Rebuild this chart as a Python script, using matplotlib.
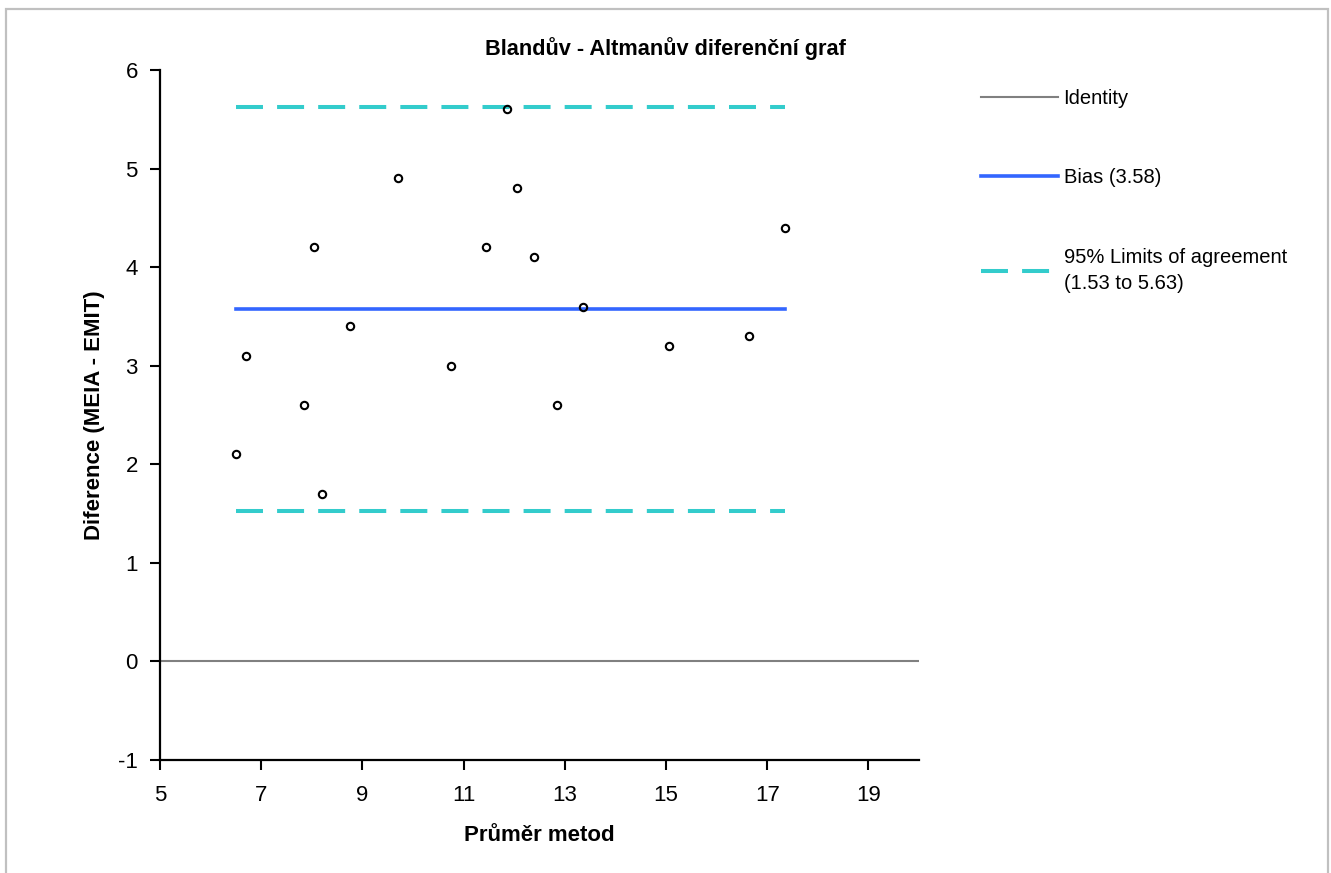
import numpy as np
import matplotlib
matplotlib.use("Agg")
import matplotlib.pyplot as plt
from matplotlib.lines import Line2D
from matplotlib.patches import Rectangle

# Bland-Altman data: mean of the two methods and their difference (MEIA - EMIT)
mean_methods = [6.5, 6.7, 7.85, 8.05, 8.2, 8.75, 9.7, 10.75, 11.45, 11.85,
                12.05, 12.4, 12.85, 13.35, 15.05, 16.65, 17.35]
differences = [2.1, 3.1, 2.6, 4.2, 1.7, 3.4, 4.9, 3.0, 4.2, 5.6,
               4.8, 4.1, 2.6, 3.6, 3.2, 3.3, 4.4]

x_ticks = [5, 7, 9, 11, 13, 15, 17, 19]
y_ticks = [-1, 0, 1, 2, 3, 4, 5, 6]

title = "Blandův - Altmanův diferenční graf"
x_label = "Průměr metod"
y_label = "Diference (MEIA - EMIT)"

x = np.array(mean_methods)
d = np.array(differences)
bias = d.mean()
sd = d.std(ddof=1)
lo, hi = bias - 1.96 * sd, bias + 1.96 * sd

plt.rcParams['font.family'] = ['Liberation Sans', 'DejaVu Sans']
plt.rcParams['axes.unicode_minus'] = False

W, H, DPI = 1331, 873, 100
fig = plt.figure(figsize=(W / DPI, H / DPI), dpi=DPI)
fig.patch.set_facecolor('white')

# light grey frame around the chart area
fig.patches.append(Rectangle((6 / W, -20 / H), (1328 - 6) / W, (H - 9 + 20) / H,
                             transform=fig.transFigure, fill=False,
                             edgecolor='#c0c0c0', linewidth=1.6, zorder=0))

ax = fig.add_axes([160 / W, 1 - 760 / H, (919 - 160) / W, (760 - 70) / H])

teal = '#33CCCC'
blue = '#3366FF'
grey = '#808080'
dash = (6.7, 3.5)

ax.axhline(0, color=grey, linewidth=1.5, zorder=1)
ax.plot([x.min(), x.max()], [bias, bias], color=blue, linewidth=2.6, zorder=2)
for v in (lo, hi):
    ax.plot([x.min(), x.max()], [v, v], color=teal, linewidth=2.9,
            dashes=dash, zorder=2)

ax.plot(x, d, linestyle='none', marker='o', markersize=5.3,
        markerfacecolor='none', markeredgecolor='black', markeredgewidth=1.5,
        zorder=3)

ax.set_xlim(5, 20)
ax.set_ylim(-1, 6)
ax.set_xticks(x_ticks)
ax.set_yticks(y_ticks)
ax.tick_params(direction='out', length=7, width=1.5, labelsize=16,
               colors='black')
ax.tick_params(axis='x', pad=11)
ax.tick_params(axis='y', pad=9)
for s in ('top', 'right'):
    ax.spines[s].set_visible(False)
for s in ('left', 'bottom'):
    ax.spines[s].set_linewidth(1.6)

fig.text(0.5, 1 - 55 / H, title, ha='center', va='baseline',
         fontsize=15.7, fontweight='bold')
ax.set_xlabel(x_label, fontsize=16, fontweight='bold', labelpad=14)
ax.set_ylabel(y_label, fontsize=16, fontweight='bold', labelpad=9)

handles = [
    Line2D([], [], color=grey, linewidth=1.5),
    Line2D([], [], color=blue, linewidth=2.6),
    Line2D([], [], color=teal, linewidth=2.9, dashes=dash),
]
labels = [
    "Identity",
    f"Bias ({bias:.2f})",
    f"95% Limits of agreement\n({lo:.2f} to {hi:.2f})",
]
leg = fig.legend(handles, labels, loc='upper left',
                 bbox_to_anchor=(981 / W, 1 - 89 / H), frameon=False,
                 fontsize=14.5, handlelength=3.8, handletextpad=0.3,
                 labelspacing=3.0, borderpad=0, borderaxespad=0)
leg.get_texts()[2].set_linespacing(1.5)

fig.savefig('out.png', dpi=DPI)
